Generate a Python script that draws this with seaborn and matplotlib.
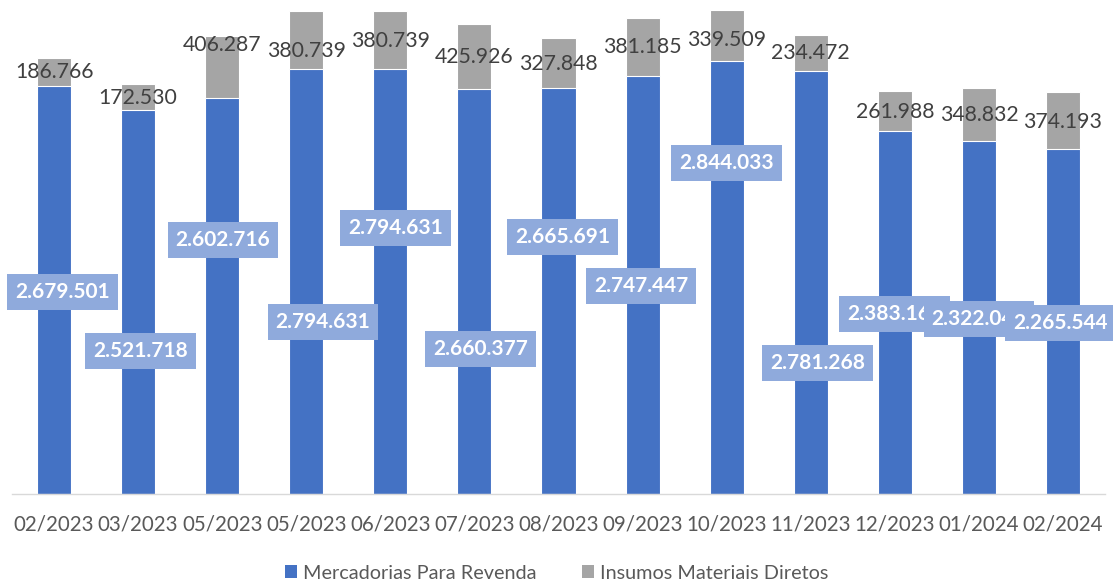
import matplotlib
matplotlib.use("Agg")
import matplotlib.pyplot as plt
from matplotlib.patches import Patch
import numpy as np
import pandas as pd
import seaborn as sns

# ---- data ----
months = ["02/2023", "03/2023", "05/2023", "05/2023", "06/2023", "07/2023", "08/2023",
          "09/2023", "10/2023", "11/2023", "12/2023", "01/2024", "02/2024"]
mercadorias = [2679501, 2521718, 2602716, 2794631, 2794631, 2660377, 2665691,
               2747447, 2844033, 2781268, 2383160, 2322040, 2265544]
insumos = [186766, 172530, 406287, 380739, 380739, 425926, 327848,
           381185, 339509, 234472, 261988, 348832, 374193]
series_names = ["Mercadorias Para Revenda", "Insumos Materiais Diretos"]

# label placement (data units), manually arranged in the original
blue_label_y = [1327000, 940000, 1669000, 1130000, 1748000, 953000, 1689000,
                1367000, 2175000, 861000, 1183000, 1150000, 1124000]
blue_label_dx = [0.10, 0.03, 0.01, 0.20, 0.06, 0.07, 0.05, -0.02, 0.0, 0.08, 0.0, 0.0, -0.03]
gray_label_y = [2773000, 2602000, 2950000, 2911000, 2977000, 2872000, 2826000,
                2937000, 2983000, 2898000, 2510000, 2490000, 2444000]


def fmt(v):
    return f"{v:,}".replace(",", ".")


blue = "#4472C4"
gray = "#A5A5A5"
box = "#8FAADC"

sns.set_theme(style="white")
plt.rcParams["font.family"] = ["Lato", "DejaVu Sans"]

df = pd.DataFrame({
    "idx": np.arange(len(months)),
    "merc": mercadorias,
    "total": np.array(mercadorias) + np.array(insumos),
})

fig = plt.figure(figsize=(11.13, 5.85), dpi=100)
ax = fig.add_axes([12 / 1113, 91 / 585, 1093 / 1113, 487 / 585])

sns.barplot(data=df, x="idx", y="total", color=gray, width=0.405, saturation=1,
            edgecolor="white", linewidth=0.8, ax=ax)
sns.barplot(data=df, x="idx", y="merc", color=blue, width=0.405, saturation=1,
            edgecolor="white", linewidth=0.8, ax=ax)

ax.set_ylim(0, 3200000)
ax.set_xlim(-0.5, len(months) - 0.5)
ax.set_xlabel("")
ax.set_ylabel("")
ax.set_yticks([])
ax.set_xticks(range(len(months)))
ax.set_xticklabels(months, fontsize=14.8, color="#595959")
ax.tick_params(axis="x", length=0, pad=15)
for s in ["top", "right", "left"]:
    ax.spines[s].set_visible(False)
ax.spines["bottom"].set_color("#D9D9D9")
ax.spines["bottom"].set_linewidth(1)

for i in range(len(months)):
    ax.text(i, gray_label_y[i], fmt(insumos[i]), ha="center", va="center",
            fontsize=15.3, color="#404040", clip_on=False, zorder=5)

for i in range(len(months)):
    ax.text(i + blue_label_dx[i], blue_label_y[i], fmt(mercadorias[i]), ha="center",
            va="center", fontsize=15, fontweight="bold", color="white", zorder=6 + i,
            bbox=dict(boxstyle="square,pad=0.38", facecolor=box, edgecolor="none"),
            clip_on=False)

handles = [Patch(facecolor=blue, edgecolor="none"), Patch(facecolor=gray, edgecolor="none")]
leg = fig.legend(handles, series_names, loc="center", bbox_to_anchor=(0.5, 0.02),
                 ncol=2, frameon=False, fontsize=14.3, handlelength=0.6, handleheight=0.6,
                 handletextpad=0.3, columnspacing=2.3, labelcolor="#595959",
                 borderpad=0, borderaxespad=0)

fig.savefig("out.png", dpi=100)
